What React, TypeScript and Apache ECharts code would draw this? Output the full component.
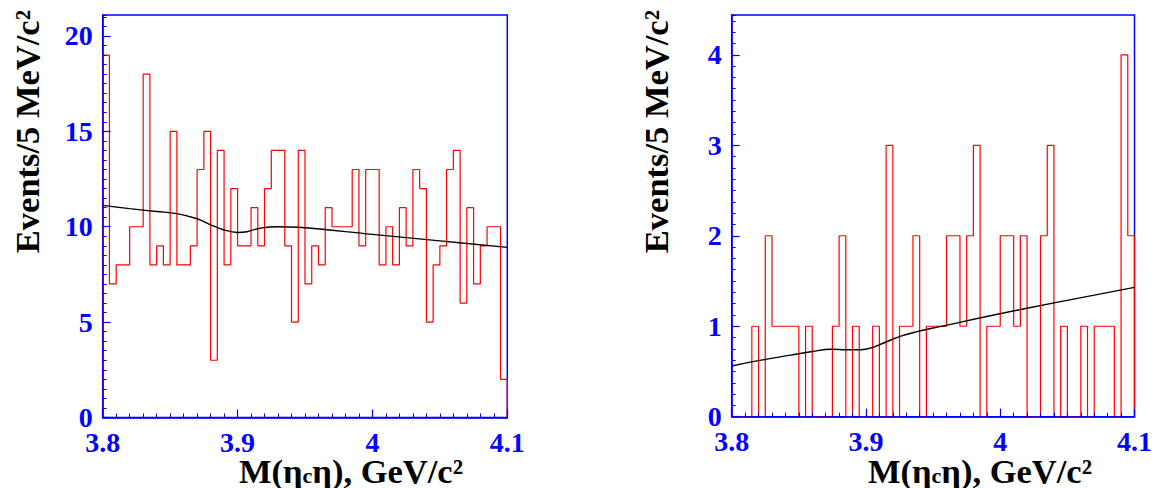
import React, { useEffect, useRef } from "react";
import * as echarts from "echarts";

// ---- data ----
const BIN_START = 3.8;
const BIN_WIDTH = 0.005;

const leftCounts = [
  19, 7, 8, 8, 10, 10, 18, 8, 9, 8,
  15, 8, 8, 9, 13, 15, 3, 14, 8, 12,
  9, 9, 11, 9, 12, 14, 14, 9, 5, 14,
  7, 9, 8, 11, 10, 10, 10, 13, 9, 13,
  13, 8, 10, 8, 11, 9, 13, 12, 5, 8,
  9, 13, 14, 6, 11, 7, 9, 10, 10, 2,
];

const rightCounts = [
  0, 0, 0, 1, 0, 2, 1, 1, 1, 1,
  0, 1, 0, 0, 0, 1, 2, 0, 1, 0,
  0, 1, 0, 3, 0, 1, 1, 2, 0, 1,
  1, 1, 2, 2, 1, 2, 3, 0, 1, 1,
  2, 2, 1, 2, 0, 0, 2, 3, 0, 1,
  0, 0, 1, 0, 1, 1, 1, 0, 4, 2,
];

const leftFitX = [3.8, 3.82, 3.84, 3.855, 3.87, 3.88, 3.89, 3.9, 3.907, 3.917, 3.93, 3.945, 4.0, 4.05, 4.1];
const leftFitY = [11.12, 10.95, 10.8, 10.69, 10.42, 10.1, 9.83, 9.7, 9.74, 9.93, 10.0, 9.97, 9.6, 9.26, 8.92];

const rightFitX = [3.8, 3.82, 3.844, 3.86, 3.874, 3.886, 3.896, 3.904, 3.914, 3.926, 3.938, 3.95, 4.017, 4.1];
const rightFitY = [0.56, 0.62, 0.68, 0.72, 0.745, 0.74, 0.74, 0.76, 0.82, 0.89, 0.94, 0.98, 1.19, 1.43];

const xRange = [3.8, 4.1];
const leftYMax = 21.1;
const rightYMax = 4.44;

const yTitle = "Events/5 MeV/c²";
const xTitleParts = ["M(η", "c", "η), GeV/c²"];

// ---- styling ----
const FONT = '"Liberation Serif", "Times New Roman", serif';
const BLUE = "#0000ff";
const RED = "#ff0000";
const TITLE_SIZE = 34.5;

function stepData(counts: number[]) {
  const d: number[][] = [[BIN_START, 0]];
  counts.forEach((v, i) => d.push([BIN_START + i * BIN_WIDTH, v]));
  const end = BIN_START + counts.length * BIN_WIDTH;
  d.push([end, counts[counts.length - 1]]);
  d.push([end, 0]);
  return d;
}

function zip(xs: number[], ys: number[]) {
  return xs.map((x, i) => [x, ys[i]]);
}

function mainXAxis(gridIndex: number) {
  return {
    type: "value",
    gridIndex,
    position: "bottom",
    min: xRange[0],
    max: xRange[1],
    interval: 0.1,
    z: 5,
    axisLine: { show: true, onZero: false, lineStyle: { color: BLUE, width: 1.5 } },
    axisTick: { show: true, inside: true, length: 8, lineStyle: { color: BLUE, width: 1.2 } },
    axisLabel: {
      color: BLUE,
      fontSize: 28,
      fontWeight: "bold",
      fontFamily: FONT,
      lineHeight: 24,
      margin: 13,
      formatter: (v: number) => String(Math.round(v * 10) / 10),
    },
    splitLine: { show: false },
  };
}

function minorXAxis(gridIndex: number) {
  return {
    type: "value",
    gridIndex,
    position: "bottom",
    min: xRange[0],
    max: xRange[1],
    interval: 0.01,
    z: 5,
    axisLine: { show: false, onZero: false },
    axisTick: { show: true, inside: true, length: 4, lineStyle: { color: BLUE, width: 1 } },
    axisLabel: { show: false },
    splitLine: { show: false },
  };
}

function mainYAxis(gridIndex: number, max: number, interval: number) {
  return {
    type: "value",
    gridIndex,
    position: "left",
    min: 0,
    max,
    interval,
    z: 5,
    axisLine: { show: true, onZero: false, lineStyle: { color: BLUE, width: 1.5 } },
    axisTick: { show: true, inside: true, length: 8, lineStyle: { color: BLUE, width: 1.2 } },
    axisLabel: {
      color: BLUE,
      fontSize: 28,
      fontWeight: "bold",
      fontFamily: FONT,
      lineHeight: 24,
      margin: 10,
      showMaxLabel: false,
    },
    splitLine: { show: false },
  };
}

function minorYAxis(gridIndex: number, max: number, interval: number) {
  return {
    type: "value",
    gridIndex,
    position: "left",
    min: 0,
    max,
    interval,
    z: 5,
    axisLine: { show: false, onZero: false },
    axisTick: { show: true, inside: true, length: 4, lineStyle: { color: BLUE, width: 1 } },
    axisLabel: { show: false },
    splitLine: { show: false },
  };
}

function yTitleText(x: number) {
  return {
    type: "text",
    x,
    y: 10,
    rotation: Math.PI / 2,
    style: {
      text: yTitle,
      fill: "#000",
      fontSize: TITLE_SIZE,
      fontWeight: "bold",
      fontFamily: FONT,
      align: "right",
      verticalAlign: "middle",
    },
  };
}

function xTitleText(xRight: number) {
  return {
    type: "text",
    x: xRight,
    y: 456,
    style: {
      text: `{m|${xTitleParts[0]}}{s|${xTitleParts[1]}}{m|${xTitleParts[2]}}`,
      align: "right",
      verticalAlign: "top",
      rich: {
        m: { fontSize: TITLE_SIZE, fontWeight: "bold", fontFamily: FONT, lineHeight: 30, fill: "#000" },
        s: { fontSize: 22, fontWeight: "bold", fontFamily: FONT, lineHeight: 12, verticalAlign: "bottom", fill: "#000" },
      },
    },
  };
}

export default function App() {
  const ref = useRef<HTMLDivElement>(null);

  useEffect(() => {
    if (!ref.current) return;
    const chart = echarts.init(ref.current, null, { renderer: "svg" });
    const gridBase = { show: true, borderColor: BLUE, borderWidth: 1.5, backgroundColor: "transparent", containLabel: false };
    chart.setOption({
      animation: false,
      backgroundColor: "#ffffff",
      grid: [
        { ...gridBase, left: 102.7, top: 15, width: 404.6, height: 402.5 },
        { ...gridBase, left: 731.7, top: 15, width: 404.6, height: 401.7 },
      ],
      xAxis: [mainXAxis(0), minorXAxis(0), mainXAxis(1), minorXAxis(1)],
      yAxis: [
        mainYAxis(0, leftYMax, 5),
        minorYAxis(0, leftYMax, 0.5),
        mainYAxis(1, rightYMax, 1),
        minorYAxis(1, rightYMax, 0.125),
      ],
      series: [
        {
          type: "line",
          xAxisIndex: 0,
          yAxisIndex: 0,
          data: stepData(leftCounts),
          step: "end",
          showSymbol: false,
          lineStyle: { color: RED, width: 1.2 },
          z: 2,
        },
        {
          type: "line",
          xAxisIndex: 0,
          yAxisIndex: 0,
          data: zip(leftFitX, leftFitY),
          smooth: 0.4,
          showSymbol: false,
          lineStyle: { color: "#000", width: 1.4 },
          z: 3,
        },
        {
          type: "line",
          xAxisIndex: 2,
          yAxisIndex: 2,
          data: stepData(rightCounts),
          step: "end",
          showSymbol: false,
          lineStyle: { color: RED, width: 1.2 },
          z: 2,
        },
        {
          type: "line",
          xAxisIndex: 2,
          yAxisIndex: 2,
          data: zip(rightFitX, rightFitY),
          smooth: 0.4,
          showSymbol: false,
          lineStyle: { color: "#000", width: 1.4 },
          z: 3,
        },
      ],
      graphic: [yTitleText(27), yTitleText(656), xTitleText(463), xTitleText(1092)],
    });
    return () => chart.dispose();
  }, []);

  return (
    <div
      ref={ref}
      style={{ position: "absolute", left: 0, top: 0, width: 1155, height: 488 }}
    />
  );
}
